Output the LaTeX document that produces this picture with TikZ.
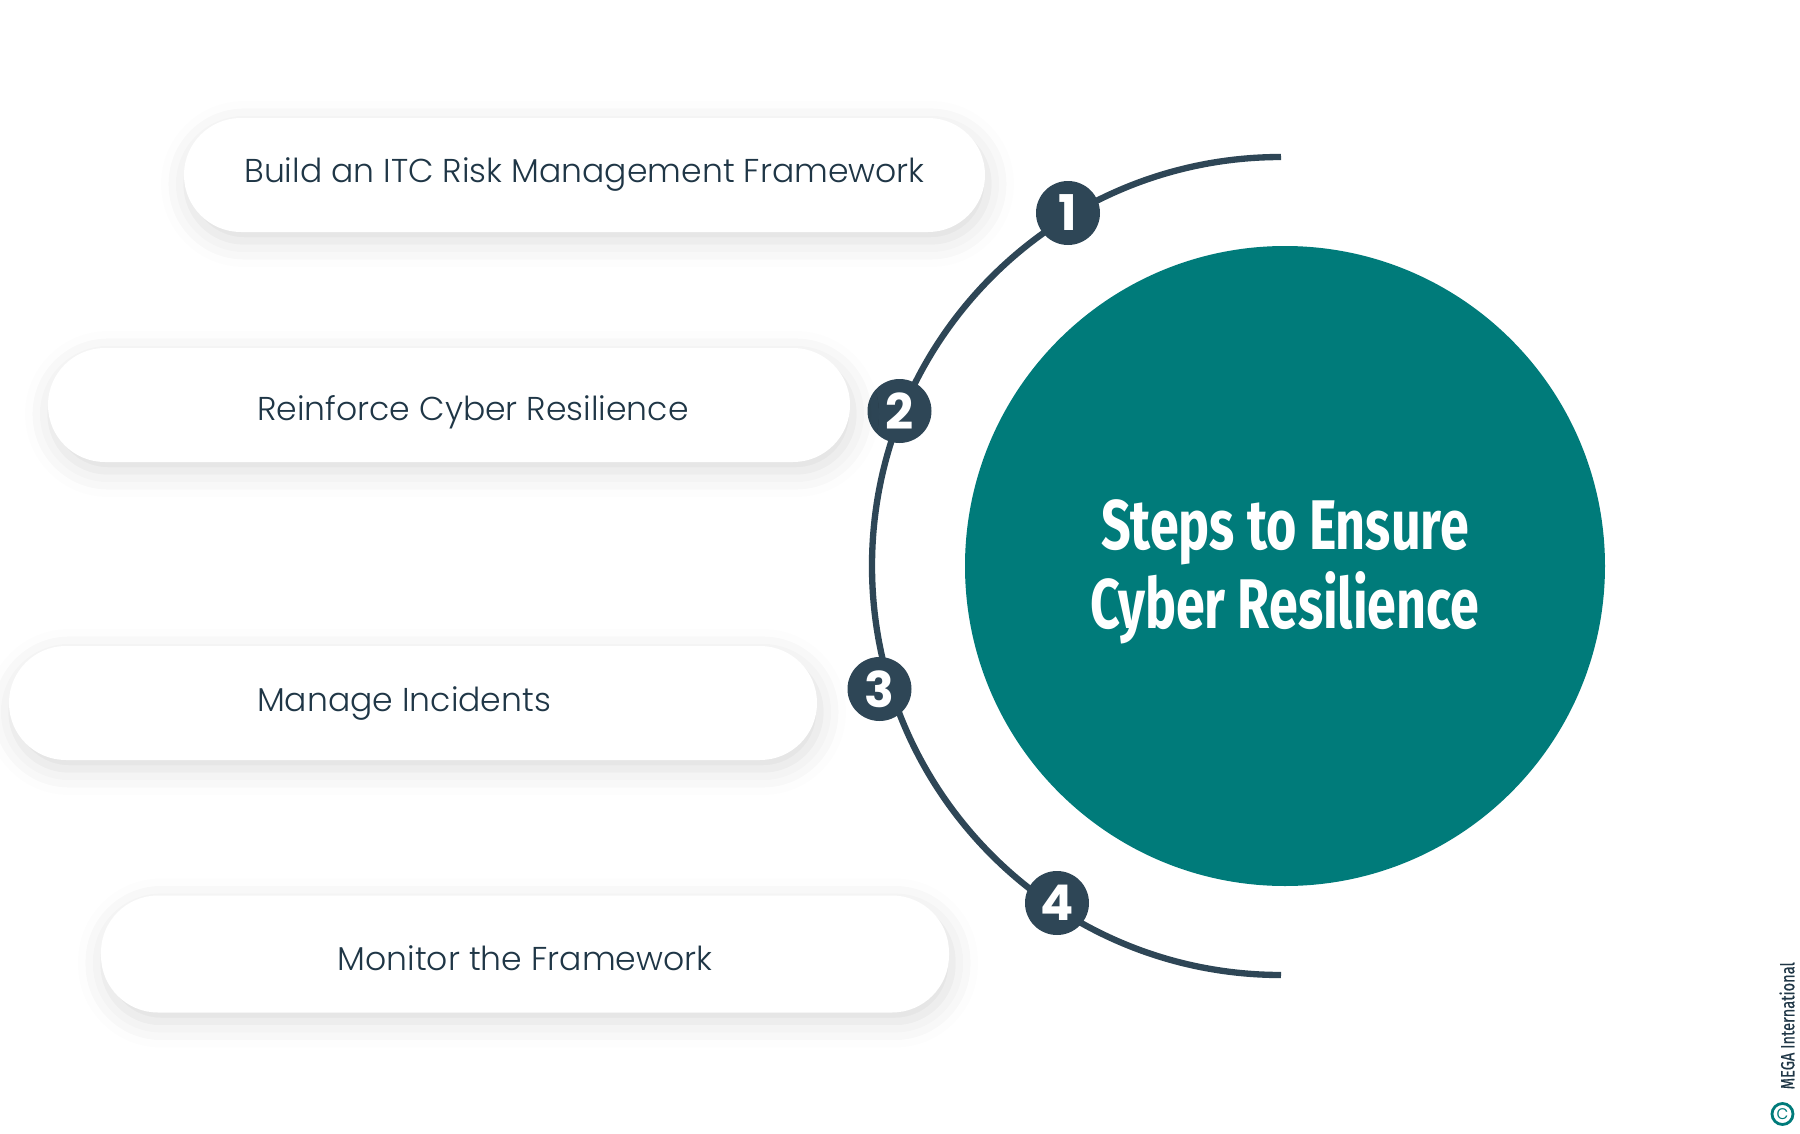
\documentclass[tikz,border=0pt]{standalone}
\usepackage{fontspec}
\setmainfont{Poppins}[UprightFont={* Light}, BoldFont={* Bold}]
\newfontfamily\titlefont[FakeStretch=0.74]{Fira Sans}
\newfontfamily\creditfont[FakeStretch=0.77, FakeBold=0.6]{Fira Sans}
\usetikzlibrary{shadows.blur}

\definecolor{tealfill}{HTML}{007B7A}
\definecolor{navyline}{HTML}{2E4656}
\definecolor{pilltext}{HTML}{1F3646}

\begin{document}
\begin{tikzpicture}[
  pill/.style={rounded corners=0.57cm, fill=white, minimum height=1.14cm, inner sep=0pt,
    blur shadow={shadow xshift=0.03cm, shadow yshift=-0.09cm, shadow blur radius=0.26cm, shadow opacity=14}},
  pilllabel/.style={text=pilltext, font=\fontsize{9.4}{11}\selectfont},
  stepnum/.style={circle, fill=navyline, minimum size=0.64cm, inner sep=0pt, text=white,
    font=\bfseries\fontsize{14}{14}\selectfont},
]
  \useasboundingbox (0,0) rectangle (18,11.33);

  % 1. 中心圆与标题
  \node[circle, fill=tealfill, minimum size=6.4cm, inner sep=0pt] (core) at (12.85,5.67) {};
  \node[align=center, text=white, font=\titlefont\bfseries\fontsize{20}{22.5}\selectfont]
    (title) at ([yshift=-0.06cm]core.center) {Steps to Ensure\\Cyber Resilience};

  % 2. 外侧弧线
  \coordinate (hub) at (12.81,5.67);
  \draw[navyline, line width=1.8pt] (hub) ++(90:4.09) arc[start angle=90, end angle=270, radius=4.09];

  % 3. 编号圆点
  \node[stepnum] (n1) at (10.68,9.20) {1};
  \node[stepnum] (n2) at (8.995,7.22) {2};
  \node[stepnum] (n3) at (8.795,4.44) {3};
  \node[stepnum] (n4) at (10.57,2.30) {4};

  % 4. 步骤框
  \node[pill, minimum width=8.01cm] (p1) at (5.845,9.58) {};
  \node[pill, minimum width=8.02cm] (p2) at (4.49,7.28) {};
  \node[pill, minimum width=8.08cm] (p3) at (4.13,4.30) {};
  \node[pill, minimum width=8.48cm, minimum height=1.17cm] (p4) at (5.25,1.79) {};

  \node[pilllabel] (t1) at (p1.center) {Build an ITC Risk Management Framework};
  \node[pilllabel] (t2) at ([xshift=0.24cm, yshift=-0.07cm]p2.center) {Reinforce Cyber Resilience};
  \node[pilllabel] (t3) at ([xshift=-0.09cm]p3.center) {Manage Incidents};
  \node[pilllabel] (t4) at ([yshift=-0.04cm]p4.center) {Monitor the Framework};

  % 5. 版权标记
  \node[rotate=90, anchor=west, inner sep=0pt, text=pilltext, font=\creditfont\fontsize{5.4}{6}\selectfont]
    (credit) at (17.87,0.43) {MEGA International};
  \node[circle, draw=tealfill, line width=0.8pt, minimum size=0.21cm, inner sep=0pt, text=tealfill,
    font=\fontsize{5.6}{5.6}\selectfont] (copy) at (17.825,0.19) {c};
\end{tikzpicture}
\end{document}
